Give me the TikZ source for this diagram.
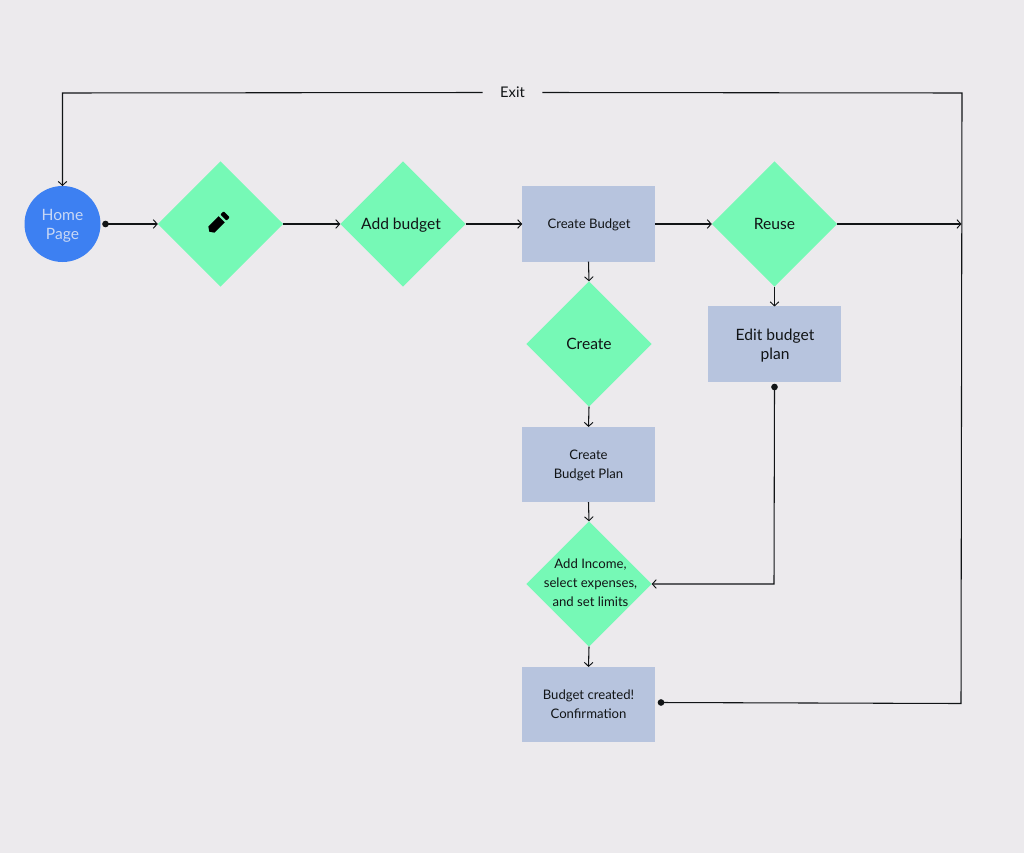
\documentclass[tikz,border=0pt]{standalone}
\usepackage{fontspec}
\setmainfont{Lato}
\usetikzlibrary{shapes.geometric,arrows.meta}
\definecolor{bgc}{HTML}{ECEAED}
\definecolor{greenc}{HTML}{76F9B6}
\definecolor{rectc}{HTML}{B7C4DE}
\definecolor{bluec}{HTML}{3D80F2}
\definecolor{hometext}{HTML}{C9D8F5}
\definecolor{inkc}{HTML}{111416}
\tikzset{
  dia/.style={shape=diamond,fill=greenc,minimum width=94pt,minimum height=94pt,inner sep=0pt,outer sep=0pt},
  box/.style={shape=rectangle,fill=rectc,minimum width=99.4pt,minimum height=56.3pt,inner sep=0pt,outer sep=0pt},
  txt/.style={align=center,text=inkc,font=\fontsize{11.7pt}{14.2pt}\selectfont,inner sep=0pt},
  smalltxt/.style={txt,font=\fontsize{9.85pt}{14.2pt}\selectfont},
  link/.style={draw=inkc,line width=0.8pt},
  arr/.style={link,-{Straight Barb[length=3pt,width=6.5pt,line width=0.7pt]}},
  dot/.style={fill=inkc,circle,minimum size=5pt,inner sep=0pt,outer sep=0pt},
}
\begin{document}
\begin{tikzpicture}[x=0.75pt,y=-0.75pt]
\fill[bgc] (0,0) rectangle (1024,853);
\useasboundingbox (0,0) rectangle (1024,853);
% nodes
\node[shape=circle,fill=bluec,minimum size=57pt,inner sep=0pt,outer sep=0pt] (home) at (62.5,224) {};
\node[txt,text=hometext] (homet) at (62.5,226) {Home\\Page};
\node[dia] (edit) at (220.5,224) {};
\node[dia] (add) at (403,224) {};
\node[txt] (addt) at (401,225.5) {Add budget};
\node[box] (cb) at (588.5,224) {};
\node[smalltxt] (cbt) at (589,225) {Create Budget};
\node[dia] (reuse) at (774.5,224) {};
\node[txt] (reuset) at (774.5,224) {Reuse};
\node[dia] (create) at (589,344) {};
\node[txt] (createt) at (589,344) {Create};
\node[box] (ep) at (774.5,344) {};
\node[txt] (ept) at (775,345.5) {Edit budget\\plan};
\node[box] (cbp) at (588.5,464.5) {};
\node[smalltxt] (cbpt) at (588.5,465.5) {Create\hspace{2pt}\\Budget Plan};
\node[dia] (inc) at (589,584) {};
\node[smalltxt] (inct) at (590.5,582.5) {Add Income,\\select expenses,\\and set limits};
\node[box] (bc) at (588.5,704.5) {};
\node[smalltxt] (bct) at (588.5,704) {Budget created!\\Confirmation};
\node[txt,font=\fontsize{11pt}{14pt}\selectfont,minimum width=44.25pt] (exit) at (512.5,92.5) {Exit};
% pencil icon
\begin{scope}[shift={(218.5,222.5)},rotate=45]
  \fill[black] (-13,0) -- (-10,-4.4) -- (4.5,-4.4) -- (4.5,4.4) -- (-10,4.4) -- cycle;
  \fill[black,rounded corners=0.6pt] (7,-4.4) rectangle (11.5,4.4);
\end{scope}
% free ends
\node[dot] (d1) at (105.5,224) {};
\node[dot] (d2) at (774.5,387) {};
\node[dot] (d3) at (661,702.5) {};
\coordinate (tl) at (62.5,93);
\coordinate (tr) at (962,93);
\coordinate (junction) at (961.5,224);
\coordinate (br) at (961,703.5);
\coordinate (elbow) at (774,584);
% connectors
\draw[arr] (exit.west) -- (tl) -- (home.north);
\draw[link] (exit.east) -- (tr) -- (br) -- (d3.center);
\draw[arr] (d1.center) -- (edit.west);
\draw[arr] (edit.east) -- (add.west);
\draw[arr] (add.east) -- (cb.west);
\draw[arr] (cb.east) -- (reuse.west);
\draw[arr] (reuse.east) -- (junction);
\draw[arr] (cb.south) -- (create.north);
\draw[arr] (create.south) -- (cbp.north);
\draw[arr] (cbp.south) -- (inc.north);
\draw[arr] (inc.south) -- (bc.north);
\draw[arr] (reuse.south) -- (ep.north);
\draw[arr] (d2.center) -- (elbow) -- (inc.east);
\end{tikzpicture}
\end{document}
